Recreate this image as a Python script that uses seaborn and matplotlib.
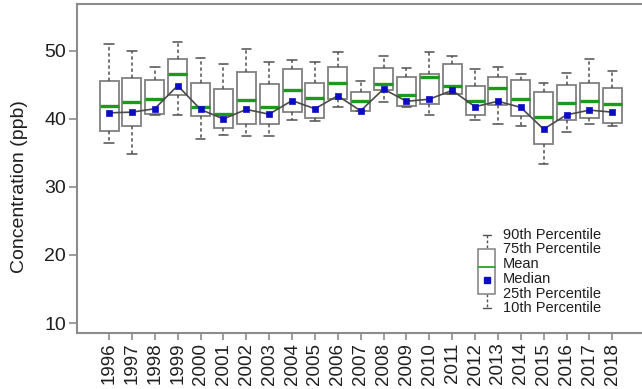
import numpy as np
import pandas as pd
import matplotlib
matplotlib.use("Agg")
import matplotlib.pyplot as plt
from matplotlib.patches import Rectangle
import seaborn as sns

# Annual concentration statistics (ppb)
years = [str(y) for y in range(1996, 2019)]
p10 = [36.5, 34.8, 40.6, 40.6, 37.0, 37.7, 37.5, 37.5, 39.9, 39.7, 41.7, 41.1,
       42.5, 41.8, 40.6, 43.6, 39.9, 39.3, 38.9, 33.4, 38.1, 39.2, 39.0]
p25 = [38.3, 38.9, 40.8, 43.5, 40.4, 38.7, 39.2, 39.2, 41.0, 40.1, 43.0, 41.2,
       44.2, 41.9, 42.2, 43.7, 40.6, 42.1, 40.5, 36.3, 39.9, 40.1, 39.4]
median = [40.9, 41.0, 41.5, 44.9, 41.4, 40.0, 41.4, 40.7, 42.7, 41.5, 43.4, 41.2,
          44.4, 42.6, 42.9, 44.2, 41.8, 42.6, 41.7, 38.5, 40.6, 41.3, 41.0]
mean = [41.9, 42.5, 43.0, 46.6, 41.8, 40.7, 42.8, 41.8, 44.3, 43.1, 45.3, 42.6,
        45.2, 43.5, 46.1, 44.9, 42.6, 44.6, 42.9, 40.3, 42.3, 42.6, 42.2]
p75 = [45.6, 46.0, 45.7, 48.8, 45.3, 44.4, 46.9, 45.2, 47.3, 45.3, 47.7, 44.0,
       47.5, 46.1, 46.6, 48.1, 44.9, 46.2, 45.7, 43.9, 45.0, 45.3, 44.6]
p90 = [51.0, 50.0, 47.6, 51.3, 48.9, 48.1, 50.3, 48.4, 48.7, 48.3, 49.8, 45.6,
       49.3, 47.5, 49.9, 49.3, 47.3, 47.6, 46.6, 45.3, 46.8, 48.8, 47.0]
yticks = [10, 20, 30, 40, 50]
legend_labels = ["90th Percentile", "75th Percentile", "Mean", "Median",
                 "25th Percentile", "10th Percentile"]

# Percentile table: whiskers span the 10th-90th percentile range
pct = pd.DataFrame({"p10": p10, "p25": p25, "p50": median, "p75": p75, "p90": p90},
                   index=years)
long = (pct.reset_index(names="year")
        .melt(id_vars="year", value_name="value")[["year", "value"]])
long["year"] = pd.Categorical(long["year"], categories=years, ordered=True)

sns.set_style("ticks")
plt.rcParams["font.family"] = ["Liberation Sans", "DejaVu Sans"]

TEXT = "#1e1e1e"
FRAME = "#8c8c8c"
BOXC = "#808080"
WHISK = "#505050"
GREEN = "#1d9a1d"
BLUE = "#0c0cc4"

fig = plt.figure(figsize=(6.42, 3.89), dpi=100)
ax = fig.add_axes([77 / 642, 56 / 389, 565 / 642, 329 / 389])

sns.boxplot(data=long, x="year", y="value", order=years, whis=(0, 100),
            width=0.83, color="white", saturation=1, linecolor=BOXC,
            linewidth=1.3, showfliers=False,
            medianprops={"visible": False},
            whiskerprops={"linestyle": (0, (2.2, 1.8)), "color": WHISK, "linewidth": 1.1},
            capprops={"color": WHISK, "linewidth": 1.1},
            ax=ax)

pos = np.arange(len(years))
# mean bars across each box
ax.hlines(mean, pos - 0.415, pos + 0.415, color=GREEN, lw=2.4, zorder=4)
# median trend line and markers
sns.lineplot(x=pos, y=median, color="#4a4a4a", lw=1.2, ax=ax, zorder=5)
sns.scatterplot(x=pos, y=median, marker="s", s=24, color=BLUE,
                edgecolor=BLUE, linewidth=0.5, ax=ax, zorder=6)

ax.set_xlim(-1.4, 23.3)
ax.set_ylim(8.53, 56.9)
ax.set_yticks(yticks)
ax.set_xlabel("")
ax.set_ylabel("Concentration (ppb)", fontsize=14, color=TEXT)
ax.yaxis.set_label_coords(-0.087, 0.444)
ax.tick_params(axis="y", labelsize=14, length=6, width=1.2, color=FRAME,
               labelcolor=TEXT, pad=2)
ax.tick_params(axis="x", labelsize=13.5, length=5, width=1.2, color=FRAME,
               labelcolor=TEXT, labelrotation=90, pad=2)
for side in ("left", "bottom", "top"):
    ax.spines[side].set_color(FRAME)
    ax.spines[side].set_linewidth(1.5)
ax.spines["right"].set_visible(False)

# Key for the box elements, drawn in axes coordinates
tr = ax.transAxes
cx, bx0, bx1 = 0.725, 0.710, 0.740
ax.plot([cx, cx], [0.298, 0.255], transform=tr, color=WHISK, lw=1.0,
        ls=(0, (2, 1.6)), zorder=7)
ax.plot([cx, cx], [0.119, 0.076], transform=tr, color=WHISK, lw=1.0,
        ls=(0, (2, 1.6)), zorder=7)
ax.plot([cx - 0.007, cx + 0.007], [0.298, 0.298], transform=tr, color=WHISK, lw=1.0, zorder=7)
ax.plot([cx - 0.007, cx + 0.007], [0.076, 0.076], transform=tr, color=WHISK, lw=1.0, zorder=7)
ax.add_patch(Rectangle((bx0, 0.119), bx1 - bx0, 0.255 - 0.119, transform=tr,
                       facecolor="white", edgecolor=BOXC, lw=1.1, zorder=7))
ax.plot([bx0, bx1], [0.201, 0.201], transform=tr, color="#3aa83a", lw=1.4, zorder=8)
ax.plot([cx], [0.161], transform=tr, marker="s", ms=5, color=BLUE, zorder=8)
for lab, yy in zip(legend_labels, [0.298, 0.254, 0.210, 0.163, 0.119, 0.075]):
    ax.text(0.754, yy, lab, transform=tr, fontsize=10.5, color=TEXT,
            va="center", ha="left", zorder=8)

fig.savefig("out.png", dpi=100)
